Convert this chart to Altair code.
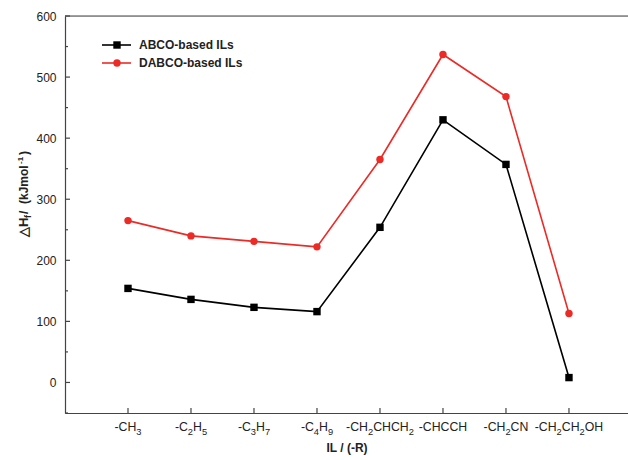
import altair as alt
import pandas as pd

# tick labels split into (text, is_subscript) pieces
groups = ["-CH3", "-C2H5", "-C3H7", "-C4H9", "-CH2CHCH2", "-CHCCH", "-CH2CN", "-CH2CH2OH"]
group_pieces = [
    [("-CH", 0), ("3", 1)],
    [("-C", 0), ("2", 1), ("H", 0), ("5", 1)],
    [("-C", 0), ("3", 1), ("H", 0), ("7", 1)],
    [("-C", 0), ("4", 1), ("H", 0), ("9", 1)],
    [("-CH", 0), ("2", 1), ("CHCH", 0), ("2", 1)],
    [("-CHCCH", 0)],
    [("-CH", 0), ("2", 1), ("CN", 0)],
    [("-CH", 0), ("2", 1), ("CH", 0), ("2", 1), ("OH", 0)],
]
abco = [154, 136, 123, 116, 254, 430, 357, 8]
dabco = [265, 240, 231, 222, 365, 537, 468, 113]
series_names = ["ABCO-based ILs", "DABCO-based ILs"]
colors = ["#000000", "#ec2a26"]
shapes = ["square", "circle"]
y_major = [0, 100, 200, 300, 400, 500, 600]
y_minor = [-50, 50, 150, 250, 350, 450, 550]

W, H = 563, 397
XMAX = 8.937
PXU = W / XMAX
FONT = "Liberation Sans"
FS, SS = 12.3, 9.3
# Arial / Liberation Sans advance widths (per 1000 em)
CW = {"-": 333, "C": 722, "H": 722, "N": 722, "O": 778}


def wid(t, size):
    return sum(CW.get(c, 556) for c in t) * size / 1000.0


rows = []
for i, g in enumerate(groups):
    rows.append({"idx": i + 1, "label": g, "series": series_names[0], "value": abco[i]})
    rows.append({"idx": i + 1, "label": g, "series": series_names[1], "value": dabco[i]})
df = pd.DataFrame(rows)

# x tick label pieces
lab_rows = []
for i, pieces in enumerate(group_pieces):
    total = sum(wid(t, SS if s else FS) for t, s in pieces)
    off = -total / 2
    for t, s in pieces:
        sz = SS if s else FS
        lab_rows.append({"pos": i + 1 + off / PXU, "t": t, "fs": sz, "yy": H + (22 if s else 18)})
        off += wid(t, sz)
labdf = pd.DataFrame(lab_rows)

xs = alt.Scale(domain=[0, XMAX], nice=False, zero=False)
ys = alt.Scale(domain=[-50, 600], nice=False, zero=False)
cs = alt.Scale(domain=series_names, range=colors)
ss = alt.Scale(domain=series_names, range=shapes)

x_axis = alt.Axis(values=list(range(1, 9)), labels=False, ticks=False, grid=False,
                  domainColor="#444", domainWidth=1.2,
                  title="IL / (-R)", titleFont=FONT, titleFontSize=12, titleFontWeight="bold",
                  titleColor="#222", titlePadding=29)
y_axis = alt.Axis(values=y_major, ticks=False, grid=False, domainColor="#444", domainWidth=1.2,
                  labelFont=FONT, labelFontSize=12, labelColor="#222", labelPadding=9, title=None)

lines = alt.Chart(df).mark_line(strokeWidth=1.6).encode(
    x=alt.X("idx:Q", scale=xs, axis=x_axis),
    y=alt.Y("value:Q", scale=ys, axis=y_axis),
    color=alt.Color("series:N", scale=cs, legend=None),
    detail="series:N",
)
points = alt.Chart(df).mark_point(filled=True, size=55, opacity=1).encode(
    x=alt.X("idx:Q", scale=xs),
    y=alt.Y("value:Q", scale=ys),
    color=alt.Color("series:N", scale=cs, legend=None),
    shape=alt.Shape("series:N", scale=ss, legend=None),
)

xlabels = alt.Chart(labdf).mark_text(align="left", baseline="alphabetic", font=FONT,
                                     color="#222").encode(
    x=alt.X("pos:Q", scale=xs), y=alt.Y("yy:Q", scale=None), text="t:N",
    size=alt.Size("fs:Q", scale=None, legend=None))

# inward ticks
xt = pd.DataFrame({"idx": list(range(1, 9))})
xticks = alt.Chart(xt).mark_rule(color="#444", strokeWidth=1.2).encode(
    x=alt.X("idx:Q", scale=xs), y=alt.value(H), y2=alt.value(H - 5))
ytm = pd.DataFrame({"v": y_major})
yticks = alt.Chart(ytm).mark_rule(color="#444", strokeWidth=1.2).encode(
    y=alt.Y("v:Q", scale=ys), x=alt.value(0), x2=alt.value(5))
ytn = pd.DataFrame({"v": y_minor})
yminor = alt.Chart(ytn).mark_rule(color="#444", strokeWidth=1.2).encode(
    y=alt.Y("v:Q", scale=ys), x=alt.value(0), x2=alt.value(3))

top = alt.Chart(pd.DataFrame({"a": [0]})).mark_rule(color="#444", strokeWidth=1.2).encode(
    x=alt.value(0), x2=alt.value(W), y=alt.value(0))

# legend
leg = pd.DataFrame({"series": series_names, "yy": [29, 47]})
leg_line = alt.Chart(leg).mark_rule(strokeWidth=1.6).encode(
    x=alt.value(37), x2=alt.value(66), y=alt.Y("yy:Q", scale=None),
    color=alt.Color("series:N", scale=cs, legend=None))
leg_pt = alt.Chart(leg).mark_point(filled=True, size=55, opacity=1).encode(
    x=alt.value(52), y=alt.Y("yy:Q", scale=None),
    color=alt.Color("series:N", scale=cs, legend=None),
    shape=alt.Shape("series:N", scale=ss, legend=None))
leg_txt = alt.Chart(leg).mark_text(align="left", baseline="middle", font=FONT, fontSize=12,
                                   fontWeight="bold", color="#222").encode(
    x=alt.value(74), y=alt.Y("yy:Q", scale=None), text="series:N")

# y title composed (rotated)
tparts = pd.DataFrame({
    "t": ["△H", "f", " / ", "(kJmol", "-1", ")"],
    "xx": [-37, -34, -37, -37, -42, -37],
    "yy": [221, 202, 198, 188, 148, 139],
    "fs": [13, 9, 12, 12, 8, 12],
})
ytitle = alt.Chart(tparts).mark_text(angle=270, align="left", baseline="alphabetic", font=FONT,
                                     fontWeight="bold", color="#222").encode(
    x=alt.X("xx:Q", scale=None), y=alt.Y("yy:Q", scale=None), text="t:N",
    size=alt.Size("fs:Q", scale=None, legend=None))

chart = alt.layer(lines, points, xticks, yticks, yminor, top, xlabels, leg_line, leg_pt, leg_txt,
                  ytitle).properties(
    width=W, height=H,
    autosize=alt.AutoSizeParams(type="none"),
    padding={"left": 65, "top": 16, "right": 0, "bottom": 47},
).configure_view(stroke=None).configure(background="white")

chart.save("out.html", embed_options={"renderer": "svg", "actions": False})
